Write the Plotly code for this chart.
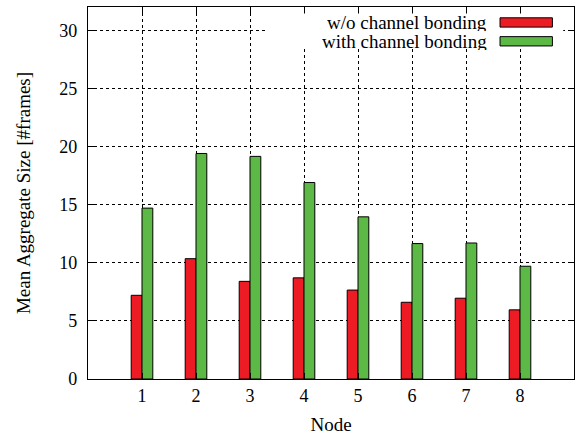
import plotly.graph_objects as go

nodes = [1, 2, 3, 4, 5, 6, 7, 8]
wo_bonding = [7.2, 10.35, 8.4, 8.7, 7.65, 6.6, 6.95, 5.95]
with_bonding = [14.7, 19.4, 19.15, 16.9, 13.95, 11.65, 11.7, 9.7]
series_names = ["w/o channel bonding", "with channel bonding"]
colors = ["#ED1C24", "#5DB946"]
y_ticks = [0, 5, 10, 15, 20, 25, 30]

FONT = "Liberation Serif"

fig = go.Figure()
offsets = [-0.1, 0.1]
for vals, name, col, off in zip([wo_bonding, with_bonding], series_names, colors, offsets):
    fig.add_trace(go.Bar(
        x=[n + off for n in nodes], y=vals, width=0.2, name=name,
        marker=dict(color=col, line=dict(color="black", width=1)),
        showlegend=False, hoverinfo="skip",
    ))

axis_common = dict(
    showline=True, linecolor="black", linewidth=1.2, mirror="ticks",
    ticks="inside", ticklen=6, tickcolor="black",
    showgrid=True, gridcolor="black", gridwidth=1, griddash="dot",
    zeroline=False, automargin=False, showspikes=False,
    tickfont=dict(family=FONT, size=18, color="black"),
)

fig.update_xaxes(range=[0, 9], tickvals=nodes, ticktext=[str(n) for n in nodes],
                 title=dict(text="Node", font=dict(family=FONT, size=19, color="black"), standoff=13),
                 **axis_common)
fig.update_yaxes(range=[0, 32], tickvals=y_ticks, ticklabelstandoff=6,
                 title=dict(text="Mean Aggregate Size [#frames]", font=dict(family=FONT, size=19, color="black"), standoff=23),
                 **axis_common)

# custom legend (text on left, swatch on right)
fig.add_shape(type="rect", xref="x", yref="y", x0=3.28, x1=8.8, y0=28.45, y1=31.45,
              fillcolor="white", line=dict(width=0), layer="between")
leg_y = [30.67, 29.05]
for name, col, yy in zip(series_names, colors, leg_y):
    fig.add_annotation(x=7.43, y=yy, xref="x", yref="y", text=name, showarrow=False,
                       xanchor="right", yanchor="middle", height=18,
                       font=dict(family=FONT, size=19, color="black"))
    fig.add_shape(type="rect", xref="x", yref="y", x0=7.63, x1=8.6,
                  y0=yy - 0.4, y1=yy + 0.4, fillcolor=col,
                  line=dict(color="black", width=1), layer="above")

fig.update_layout(
    width=576, height=442,
    margin=dict(l=88, r=2, t=7, b=63),
    plot_bgcolor="white", paper_bgcolor="white",
    barmode="overlay", hovermode=False,
    font=dict(family=FONT, color="black"),
)

fig.write_html("out.html", config={"displayModeBar": False, "staticPlot": True},
               post_script="document.body.style.margin='0';document.body.style.overflow='hidden';")
